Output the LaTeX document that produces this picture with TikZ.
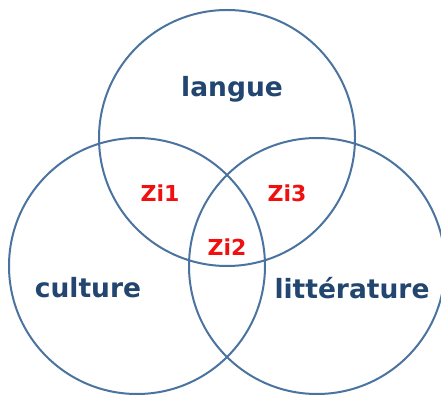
\documentclass[tikz,border=0pt]{standalone}
\usepackage{fontspec}
\setmainfont{DejaVu Sans}
\definecolor{ring}{HTML}{4A73A0}
\definecolor{navy}{HTML}{22466F}
\definecolor{zired}{HTML}{F01010}
\begin{document}
\begin{tikzpicture}[x=1pt,y=-1pt,
  ring/.style={draw=ring,line width=2pt,circle,minimum size=256pt,inner sep=0pt},
  big/.style={text=navy,font=\fontsize{26.5}{30}\selectfont\bfseries,inner sep=0pt},
  zi/.style={text=zired,font=\fontsize{22}{26}\selectfont\bfseries,inner sep=0pt}]
\useasboundingbox (0,0) rectangle (441,395);
\fill[white] (0,0) rectangle (441,395);
\begin{scope}
\clip (0,0) rectangle (441,395);
\node[ring] (top) at (227,138) {};
\node[ring] (left) at (137,266) {};
\node[ring] (right) at (317,266) {};
\end{scope}
\node[big] (langue) at (232,89) {langue};
\node[big] (culture) at (88,288) {culture};
\node[big] (litt) at (352,288) {littérature};
\node[zi] (zi1) at (160,193) {Zi1};
\node[zi] (zi3) at (287,193) {Zi3};
\node[zi] (zi2) at (227,247) {Zi2};
\end{tikzpicture}
\end{document}
